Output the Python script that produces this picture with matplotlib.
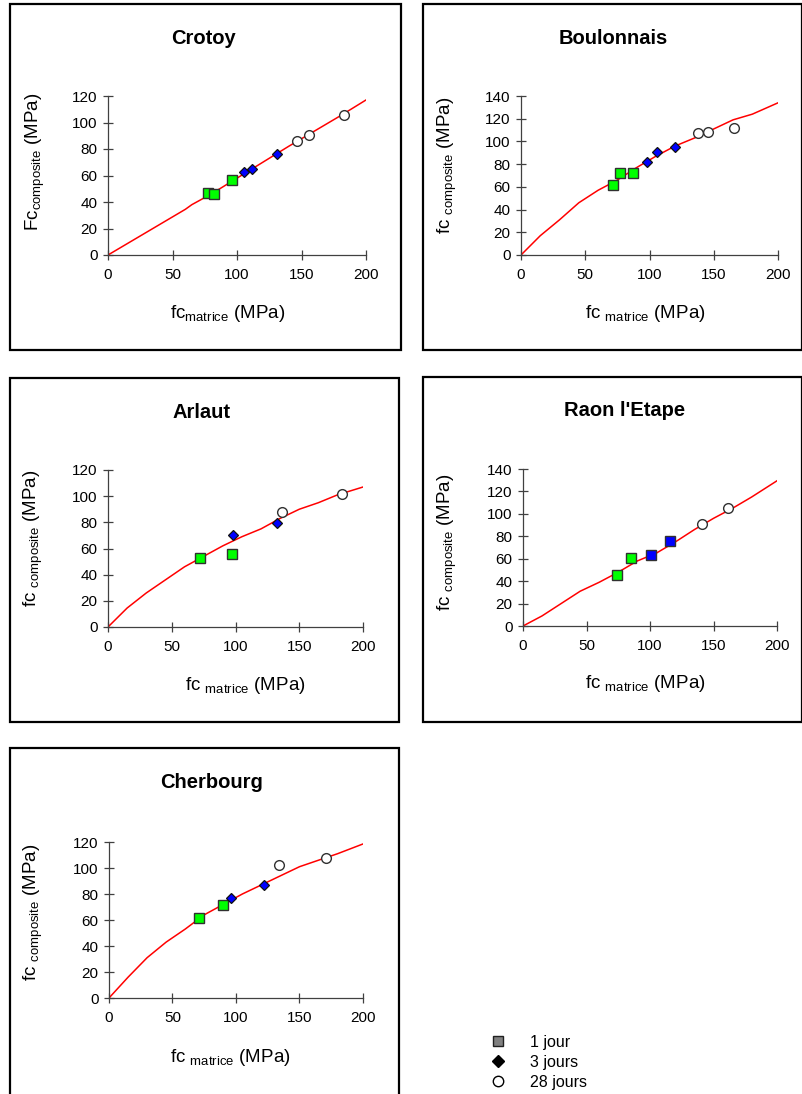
import numpy as np
import matplotlib
matplotlib.use('Agg')
import matplotlib.pyplot as plt
from matplotlib.patches import Rectangle
from matplotlib.lines import Line2D

plt.rcParams['font.family'] = ['Liberation Sans', 'DejaVu Sans']
plt.rcParams['mathtext.fontset'] = 'custom'
plt.rcParams['mathtext.rm'] = 'Liberation Sans'

W, H = 803, 1094

# --- data ---
crotoy_curve_x = [0, 20, 40, 60, 65, 80, 100, 120, 140, 160, 180, 200]
crotoy_curve_y = [0, 11.5, 23, 34.5, 38, 46, 58, 70, 82, 93.5, 105, 117]
crotoy_j1 = ([77.6, 82, 96.5], [47, 45.8, 56.6])
crotoy_j3 = ([105.3, 111.5, 130.7], [62.6, 64.7, 76.5])
crotoy_j28 = ([146.7, 155.8, 182.7], [86.3, 90.3, 105.7])

boul_curve_x = [0, 15, 30, 45, 60, 75, 90, 105, 120, 135, 150, 165, 180, 200]
boul_curve_y = [0, 17, 31, 46, 57, 66, 77, 87, 96, 103, 111, 119, 124, 134]
boul_j1 = ([71.9, 77.1, 87.3], [61.3, 71.9, 71.9])
boul_j3 = ([98.2, 105.5, 119.5], [82.2, 90.4, 95.4])
boul_j28 = ([137.4, 145.5, 165.7], [107.1, 108.6, 112.1])

arl_curve_x = [0, 15, 30, 45, 60, 75, 90, 105, 120, 135, 150, 165, 180, 200]
arl_curve_y = [0, 14.5, 26, 36, 46, 54, 62, 69, 75, 83, 90, 95, 101, 107]
arl_j1 = ([72, 97.5], [52.9, 55.7])
arl_j3 = ([98, 132.2], [70.7, 79.6])
arl_j28 = ([136.6, 183.8], [88.2, 102])

raon_curve_x = [0, 15, 30, 45, 60, 75, 90, 105, 120, 135, 150, 165, 180, 200]
raon_curve_y = [0, 9, 20, 31, 39, 48, 58, 65, 75, 86, 96, 105, 115, 129.5]
raon_j1 = ([73.8, 84.8], [45.6, 60.8])
raon_j3 = ([101, 115.4], [63.2, 75.7])
raon_j28 = ([140.8, 161.3], [90.9, 104.9])

cher_curve_x = [0, 15, 30, 45, 60, 75, 90, 105, 120, 135, 150, 165, 180, 200]
cher_curve_y = [0, 16, 31, 43, 53, 64, 72, 80, 87, 94, 101, 106, 111, 118.5]
cher_j1 = ([70.7, 89.6], [61.3, 71.2])
cher_j3 = ([95.7, 122.2], [76.6, 87.3])
cher_j28 = ([133.8, 170.6], [102.1, 108])

x_ticks = [0, 50, 100, 150, 200]

fig = plt.figure(figsize=(W / 100, H / 100), dpi=100)


def px_rect(x0, y0, x1, y1):
    return [x0 / W, 1 - y1 / H, (x1 - x0) / W, (y1 - y0) / H]


def border(x0, y0, x1, y1):
    fig.patches.append(Rectangle((x0 / W, 1 - y1 / H), (x1 - x0) / W, (y1 - y0) / H,
                                 transform=fig.transFigure, fill=False,
                                 edgecolor='black', linewidth=1.6))


def panel(box, axbox, title, title_xy, xlab, xlab_xy, ylab, ylab_xy,
          cx, cy, j1, j3, j28, ymax, j3_square=False):
    border(*box)
    ax = fig.add_axes(px_rect(*axbox))
    ax.plot(cx, cy, color='red', lw=1.1, zorder=2)
    ax.plot(j1[0], j1[1], 's', ms=7, mfc='#00ff00', mec='#303030', mew=1.0,
            ls='none', zorder=3)
    if j3_square:
        ax.plot(j3[0], j3[1], 's', ms=7, mfc='#0000ff', mec='#303030', mew=1.0,
                ls='none', zorder=3)
    else:
        ax.plot(j3[0], j3[1], 'D', ms=5.5, mfc='#0000ff', mec='#101010', mew=0.9,
                ls='none', zorder=3)
    ax.plot(j28[0], j28[1], 'o', ms=7, mfc='white', mec='#303030', mew=1.0,
            ls='none', zorder=3)
    ax.set_xlim(0, 200)
    ax.set_ylim(0, ymax)
    ax.set_xticks(x_ticks)
    ax.set_yticks(np.arange(0, ymax + 1, 20))
    for s in ['top', 'right']:
        ax.spines[s].set_visible(False)
    ax.spines['left'].set_color('#404040')
    ax.spines['bottom'].set_color('#404040')
    ax.spines['left'].set_linewidth(0.9)
    ax.spines['bottom'].set_linewidth(0.9)
    ax.tick_params(axis='both', direction='inout', length=7, width=0.9,
                   color='#404040', labelsize=11)
    ax.tick_params(axis='y', pad=4)
    ax.tick_params(axis='x', pad=6)
    ax.set_facecolor('none')
    fig.text(title_xy[0] / W, 1 - title_xy[1] / H, title, ha='center', va='center',
             fontsize=14.5, fontweight='bold')
    fig.text(xlab_xy[0] / W, 1 - xlab_xy[1] / H, xlab, ha='center', va='center',
             fontsize=13.5)
    fig.text(ylab_xy[0] / W, 1 - ylab_xy[1] / H, ylab, ha='center', va='center',
             fontsize=13.5, rotation=90)
    return ax


xl_tight = r'fc$\mathregular{_{matrice}}$ (MPa)'
xl = r'fc $\mathregular{_{matrice}}$ (MPa)'
yl_tight = r'Fc$\mathregular{_{composite}}$ (MPa)'
yl = r'fc $\mathregular{_{composite}}$ (MPa)'

panel((10, 4, 401, 350), (108, 96, 366, 255), 'Crotoy', (204, 38),
      xl_tight, (228, 313), yl_tight, (35, 162),
      crotoy_curve_x, crotoy_curve_y, crotoy_j1, crotoy_j3, crotoy_j28, 120)
panel((423, 4, 802, 350), (521, 96, 778, 255), 'Boulonnais', (613, 38),
      xl, (645, 313), yl, (447, 165),
      boul_curve_x, boul_curve_y, boul_j1, boul_j3, boul_j28, 140)
panel((10, 378, 399, 722), (108, 470, 363, 627), 'Arlaut', (202, 412),
      xl, (245, 685), yl, (33, 538),
      arl_curve_x, arl_curve_y, arl_j1, arl_j3, arl_j28, 120)
panel((423, 377, 802, 722), (523, 469, 777, 626), "Raon l'Etape", (625, 411),
      xl, (645, 684), yl, (447, 542),
      raon_curve_x, raon_curve_y, raon_j1, raon_j3, raon_j28, 140, j3_square=True)
panel((10, 748, 399, 1100), (109, 842, 363, 998), 'Cherbourg', (212, 782),
      xl, (230, 1057), yl, (33, 912),
      cher_curve_x, cher_curve_y, cher_j1, cher_j3, cher_j28, 120)

# legend
legend_labels = ['1 jour', '3 jours', '28 jours']
handles = [
    Line2D([], [], marker='s', ms=7.5, mfc='#808080', mec='#202020', ls='none'),
    Line2D([], [], marker='D', ms=6.5, mfc='black', mec='black', ls='none'),
    Line2D([], [], marker='o', ms=7.5, mfc='white', mec='black', ls='none'),
]
fig.legend(handles, legend_labels, loc='upper left',
           bbox_to_anchor=(482 / W, 1 - 1035 / H), frameon=False,
           fontsize=11.5, handletextpad=1.0, labelspacing=0.3,
           borderaxespad=0, borderpad=0)

fig.savefig('out.png', dpi=100)
